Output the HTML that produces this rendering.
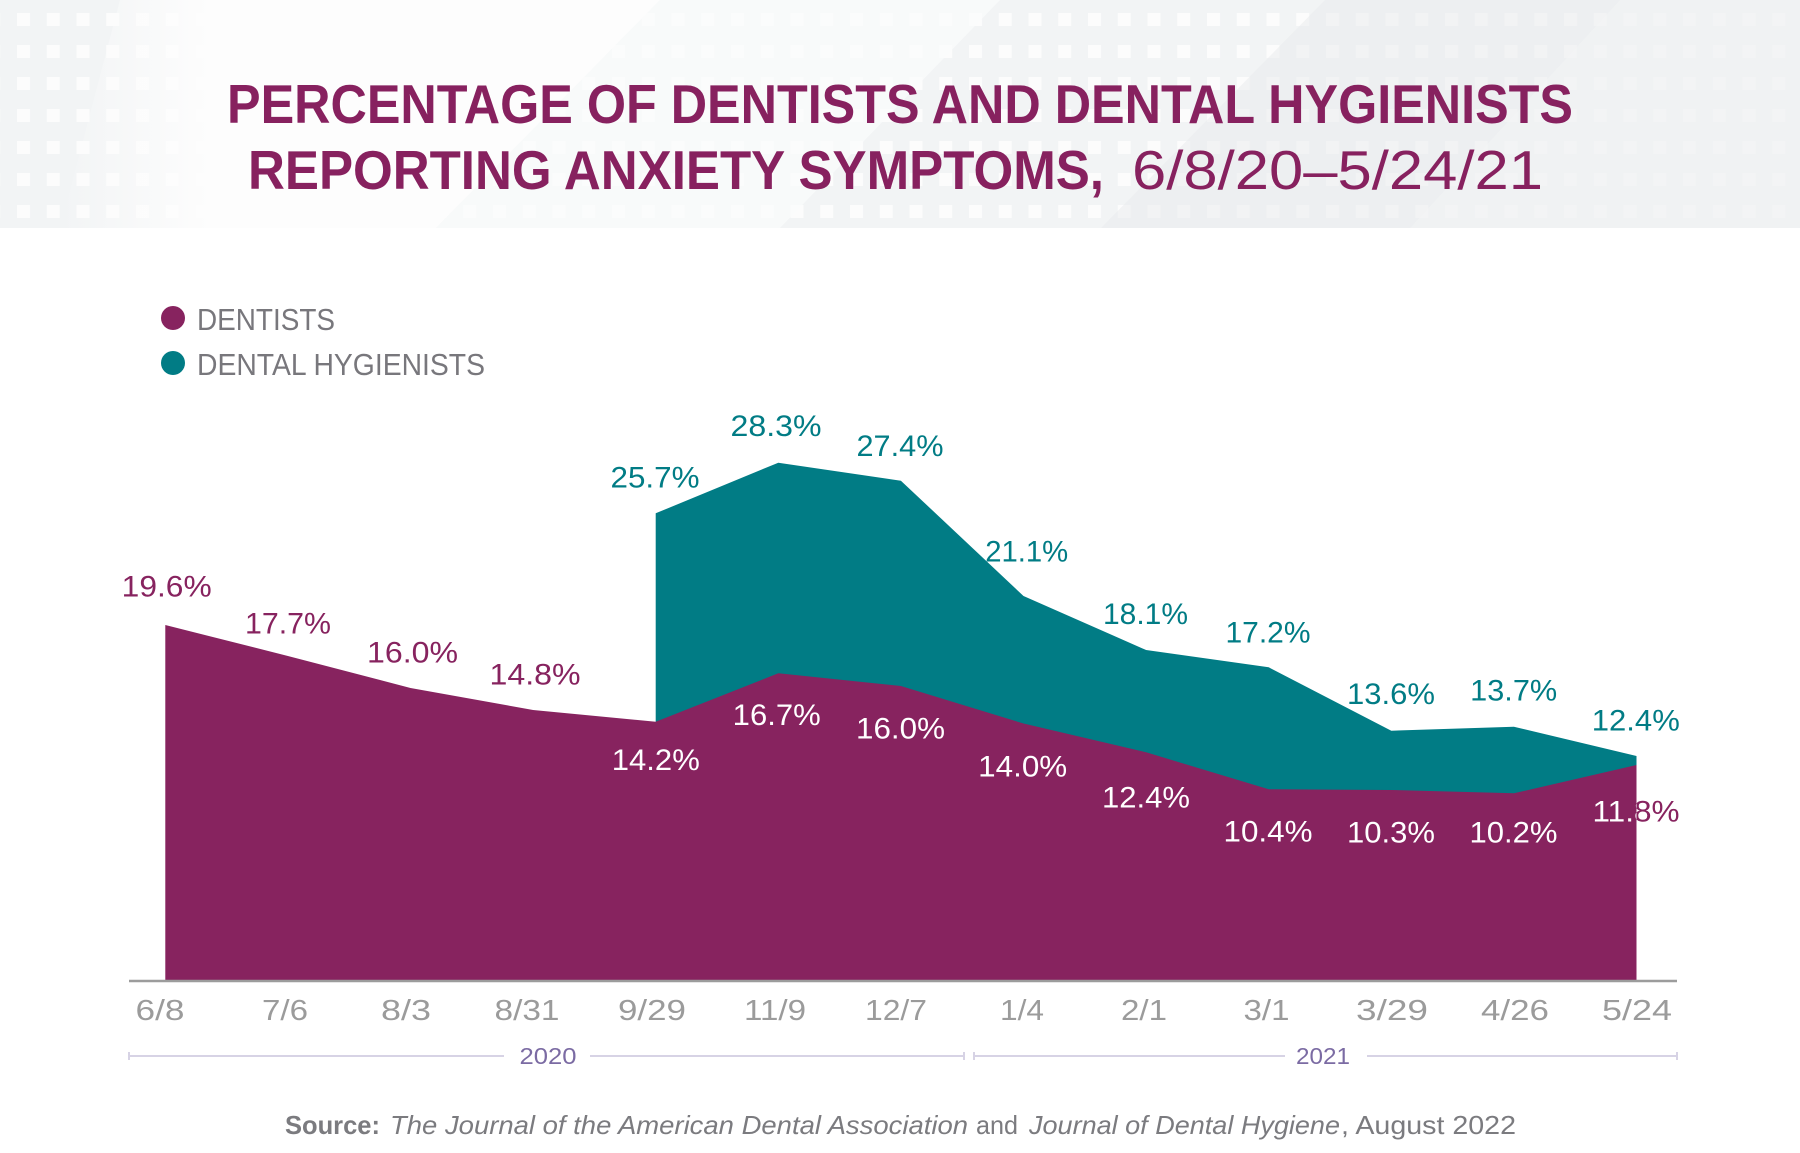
<!DOCTYPE html>
<html>
<head>
<meta charset="utf-8">
<style>
html,body{margin:0;padding:0;background:#fff;}
svg{display:block;}
text{font-family:"Liberation Sans", sans-serif;}
</style>
</head>
<body>
<svg width="1800" height="1153" viewBox="0 0 1800 1153" xmlns="http://www.w3.org/2000/svg">
<defs>
  <pattern id="sq" x="17" y="13" width="29.75" height="32" patternUnits="userSpaceOnUse">
    <rect x="0" y="0" width="13" height="13" fill="#ffffff" opacity="0.75"/>
  </pattern>
  <linearGradient id="wfade" x1="0" y1="0" x2="1" y2="0">
    <stop offset="0" stop-color="#fdfdfd" stop-opacity="0"/>
    <stop offset="0.25" stop-color="#fdfdfd" stop-opacity="1"/>
    <stop offset="1" stop-color="#fdfdfd" stop-opacity="1"/>
  </linearGradient>
  <clipPath id="purpleClip">
    <polygon points="165.3,980 165.3,625 287.9,656 410.5,688 533.1,710 655.7,721.7 778.3,673.3 900.9,686 1023.5,723.5 1146.1,752.3 1268.7,789.3 1391.3,790 1513.9,793.3 1636.5,765 1636.5,980"/>
  </clipPath>
</defs>

<rect x="0" y="0" width="1800" height="1153" fill="#ffffff"/>

<!-- header band -->
<rect x="0" y="0" width="1800" height="228" fill="#f2f4f5"/>
<rect x="0" y="0" width="1800" height="228" fill="url(#sq)"/>
<polygon points="120,0 660,0 436,228 60,228" fill="url(#wfade)"/>
<polygon points="660,0 1000,0 780,228 436,228" fill="#fbfcfc" opacity="0.7"/>
<polygon points="1325,0 1800,0 1800,228 1101,228" fill="#e9ebec" opacity="0.55"/>
<polygon points="1620,0 1800,0 1800,228 1410,228" fill="#f3f5f5" opacity="0.5"/>

<!-- title -->
<text x="227" y="123" font-size="55" font-weight="bold" fill="#87215f" textLength="1346" lengthAdjust="spacingAndGlyphs">PERCENTAGE OF DENTISTS AND DENTAL HYGIENISTS</text>
<text x="248" y="189" font-size="55" font-weight="bold" fill="#87215f" textLength="856" lengthAdjust="spacingAndGlyphs">REPORTING ANXIETY SYMPTOMS,</text>
<text x="1132" y="189" font-size="55" fill="#87215f" textLength="411" lengthAdjust="spacingAndGlyphs">6/8/20–5/24/21</text>

<!-- legend -->
<circle cx="173" cy="318" r="12" fill="#87235f"/>
<text x="197" y="330" font-size="31" fill="#78777c" textLength="138" lengthAdjust="spacingAndGlyphs">DENTISTS</text>
<circle cx="173" cy="363" r="12" fill="#017c85"/>
<text x="197" y="375" font-size="31" fill="#78777c" textLength="288" lengthAdjust="spacingAndGlyphs">DENTAL HYGIENISTS</text>

<!-- teal area -->
<polygon points="655.7,980 655.7,513.3 778.3,462.7 900.9,480.7 1023.5,596 1146.1,650 1268.7,667.3 1391.3,730.7 1513.9,726.7 1636.5,756 1636.5,980" fill="#017c85"/>
<!-- purple area -->
<polygon points="165.3,980 165.3,625 287.9,656 410.5,688 533.1,710 655.7,721.7 778.3,673.3 900.9,686 1023.5,723.5 1146.1,752.3 1268.7,789.3 1391.3,790 1513.9,793.3 1636.5,765 1636.5,980" fill="#87235f"/>

<!-- axis -->
<line x1="129" y1="981" x2="1677" y2="981" stroke="#9c9c9c" stroke-width="2.5"/>

<!-- dentist labels above -->
<g font-size="30" fill="#87235f" text-anchor="middle">
  <text x="166.7" y="596.7" textLength="90" lengthAdjust="spacingAndGlyphs">19.6%</text>
  <text x="288" y="633.3" textLength="86" lengthAdjust="spacingAndGlyphs">17.7%</text>
  <text x="412.5" y="662.3" textLength="91" lengthAdjust="spacingAndGlyphs">16.0%</text>
  <text x="535" y="684.3" textLength="91" lengthAdjust="spacingAndGlyphs">14.8%</text>
  <text x="1636" y="821.7" textLength="87" lengthAdjust="spacingAndGlyphs">11.8%</text>
</g>
<!-- dentist labels inside (white) -->
<g font-size="30" fill="#ffffff" text-anchor="middle">
  <text x="655.8" y="770" textLength="88" lengthAdjust="spacingAndGlyphs">14.2%</text>
  <text x="776.7" y="725" textLength="88" lengthAdjust="spacingAndGlyphs">16.7%</text>
  <text x="900.5" y="738.3" textLength="89" lengthAdjust="spacingAndGlyphs">16.0%</text>
  <text x="1022.7" y="776.5" textLength="89" lengthAdjust="spacingAndGlyphs">14.0%</text>
  <text x="1146" y="807.3" textLength="88" lengthAdjust="spacingAndGlyphs">12.4%</text>
  <text x="1268" y="841.7" textLength="89" lengthAdjust="spacingAndGlyphs">10.4%</text>
  <text x="1391" y="842.7" textLength="88" lengthAdjust="spacingAndGlyphs">10.3%</text>
  <text x="1513.5" y="842.7" textLength="88" lengthAdjust="spacingAndGlyphs">10.2%</text>
  <g clip-path="url(#purpleClip)">
    <text x="1636" y="821.7" textLength="87" lengthAdjust="spacingAndGlyphs">11.8%</text>
  </g>
</g>
<!-- hygienist labels -->
<g font-size="30" fill="#017c85" text-anchor="middle">
  <text x="655" y="487.3" textLength="89" lengthAdjust="spacingAndGlyphs">25.7%</text>
  <text x="776" y="436" textLength="91" lengthAdjust="spacingAndGlyphs">28.3%</text>
  <text x="900" y="456" textLength="87" lengthAdjust="spacingAndGlyphs">27.4%</text>
  <text x="1026.7" y="561.7" textLength="83" lengthAdjust="spacingAndGlyphs">21.1%</text>
  <text x="1145.5" y="624" textLength="85" lengthAdjust="spacingAndGlyphs">18.1%</text>
  <text x="1268" y="642.3" textLength="85" lengthAdjust="spacingAndGlyphs">17.2%</text>
  <text x="1391" y="704" textLength="88" lengthAdjust="spacingAndGlyphs">13.6%</text>
  <text x="1513.7" y="700.7" textLength="87" lengthAdjust="spacingAndGlyphs">13.7%</text>
  <text x="1635.8" y="730.7" textLength="88" lengthAdjust="spacingAndGlyphs">12.4%</text>
</g>

<!-- x axis labels -->
<g font-size="29" fill="#9b9b9b" text-anchor="middle">
  <text x="160" y="1020" textLength="49" lengthAdjust="spacingAndGlyphs">6/8</text>
  <text x="285" y="1020" textLength="46" lengthAdjust="spacingAndGlyphs">7/6</text>
  <text x="406" y="1020" textLength="50" lengthAdjust="spacingAndGlyphs">8/3</text>
  <text x="527" y="1020" textLength="65" lengthAdjust="spacingAndGlyphs">8/31</text>
  <text x="652" y="1020" textLength="68" lengthAdjust="spacingAndGlyphs">9/29</text>
  <text x="775" y="1020" textLength="62" lengthAdjust="spacingAndGlyphs">11/9</text>
  <text x="896" y="1020" textLength="62" lengthAdjust="spacingAndGlyphs">12/7</text>
  <text x="1022" y="1020" textLength="44" lengthAdjust="spacingAndGlyphs">1/4</text>
  <text x="1144" y="1020" textLength="46" lengthAdjust="spacingAndGlyphs">2/1</text>
  <text x="1266.5" y="1020" textLength="46" lengthAdjust="spacingAndGlyphs">3/1</text>
  <text x="1392" y="1020" textLength="72" lengthAdjust="spacingAndGlyphs">3/29</text>
  <text x="1515" y="1020" textLength="68" lengthAdjust="spacingAndGlyphs">4/26</text>
  <text x="1637" y="1020" textLength="70" lengthAdjust="spacingAndGlyphs">5/24</text>
</g>

<!-- year brackets -->
<g stroke="#d7d3e5" stroke-width="2">
  <line x1="129" y1="1056" x2="504" y2="1056"/>
  <line x1="590" y1="1056" x2="964" y2="1056"/>
  <line x1="974" y1="1056" x2="1285" y2="1056"/>
  <line x1="1367" y1="1056" x2="1677" y2="1056"/>
  <line x1="129" y1="1052" x2="129" y2="1060"/>
  <line x1="964" y1="1052" x2="964" y2="1060"/>
  <line x1="974" y1="1052" x2="974" y2="1060"/>
  <line x1="1677" y1="1052" x2="1677" y2="1060"/>
</g>
<g font-size="23" fill="#7b6ba3" text-anchor="middle">
  <text x="548" y="1064" textLength="57" lengthAdjust="spacingAndGlyphs">2020</text>
  <text x="1323" y="1064" textLength="54" lengthAdjust="spacingAndGlyphs">2021</text>
</g>

<!-- source -->
<g font-size="26" fill="#7b7b7f">
  <text x="285" y="1134" font-weight="bold" textLength="95" lengthAdjust="spacingAndGlyphs">Source:</text>
  <text x="390" y="1134" font-style="italic" textLength="578" lengthAdjust="spacingAndGlyphs">The Journal of the American Dental Association</text>
  <text x="976" y="1134" textLength="42" lengthAdjust="spacingAndGlyphs">and</text>
  <text x="1029" y="1134" font-style="italic" textLength="311" lengthAdjust="spacingAndGlyphs">Journal of Dental Hygiene</text>
  <text x="1341" y="1134" textLength="175" lengthAdjust="spacingAndGlyphs">, August 2022</text>
</g>
</svg>
</body>
</html>
